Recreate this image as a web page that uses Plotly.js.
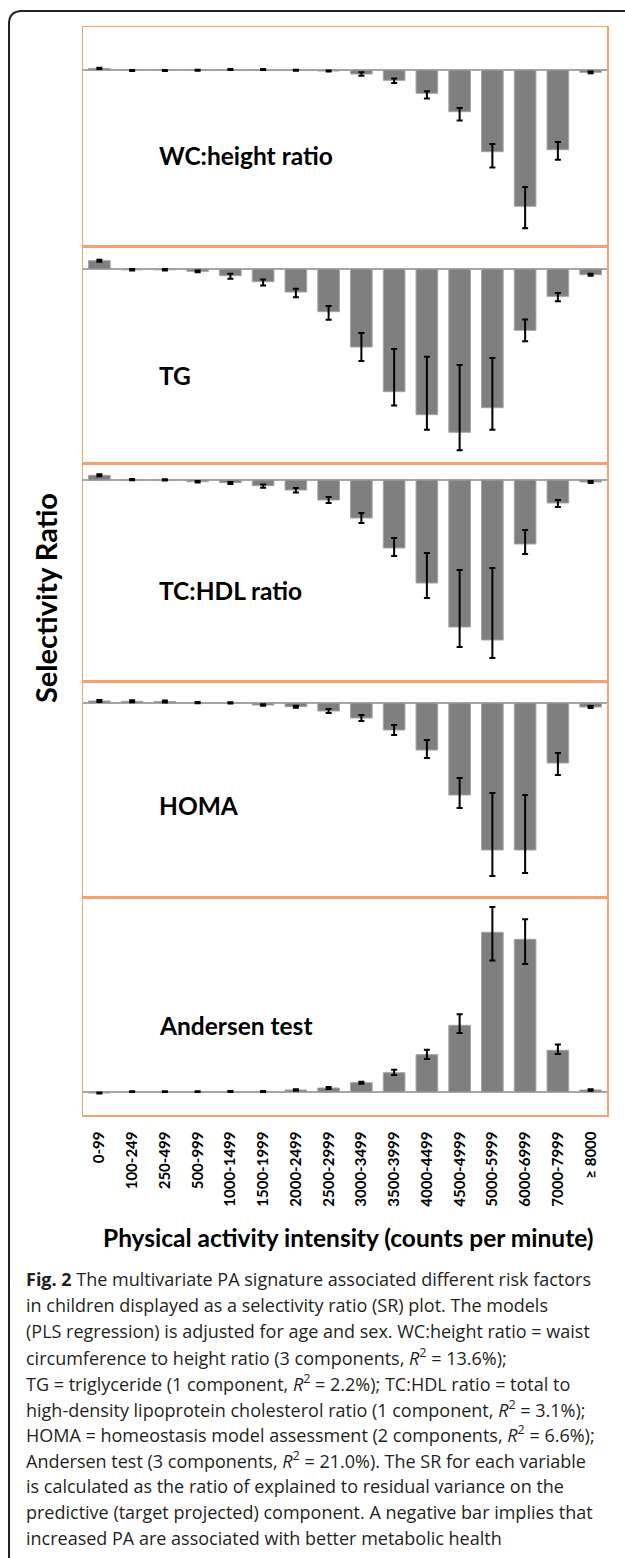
<!DOCTYPE html>
<html>
<head>
<meta charset="utf-8">
<script src="https://cdn.plot.ly/plotly-3.0.1.min.js"></script>
<style>
  html, body { margin: 0; padding: 0; background: #ffffff; }
  #chart { width: 625px; height: 1558px; }
</style>
</head>
<body>
<div id="chart"></div>
<script>
// ---------- data (selectivity ratio, arbitrary SR units) ----------
const categories = ['0-99','100-249','250-499','500-999','1000-1499','1500-1999','2000-2499','2500-2999',
                    '3000-3499','3500-3999','4000-4499','4500-4999','5000-5999','6000-6999','7000-7999','\u2265 8000'];

const panelNames = ['WC:height ratio', 'TG', 'TC:HDL ratio', 'HOMA', 'Andersen test'];

const wcValues   = [0.016,-0.005,-0.004,-0.003,0.004,0.004,-0.003,-0.010,-0.040,-0.103,-0.233,-0.417,-0.817,-1.363,-0.797,-0.023];
const wcErrUp    = [0.006,0.005,0.005,0.005,0.005,0.005,0.005,0.005,0.017,0.017,0.020,0.037,0.077,0.193,0.077,0.008];
const wcErrDown  = [0.006,0.005,0.005,0.005,0.005,0.005,0.005,0.005,0.017,0.027,0.053,0.087,0.157,0.220,0.100,0.010];

const tgValues   = [0.083,-0.008,-0.008,-0.023,-0.067,-0.127,-0.230,-0.427,-0.780,-1.227,-1.457,-1.633,-1.387,-0.613,-0.273,-0.057];
const tgErrUp    = [0.010,0.007,0.007,0.007,0.020,0.023,0.033,0.057,0.140,0.427,0.580,0.673,0.497,0.107,0.033,0.010];
const tgErrDown  = [0.010,0.007,0.007,0.010,0.030,0.037,0.053,0.080,0.140,0.137,0.150,0.180,0.220,0.110,0.050,0.010];

const tcValues   = [0.047,0.003,0.002,-0.017,-0.027,-0.057,-0.100,-0.200,-0.380,-0.680,-1.030,-1.470,-1.600,-0.640,-0.230,-0.020];
const tcErrUp    = [0.010,0.006,0.006,0.006,0.008,0.012,0.020,0.030,0.050,0.100,0.300,0.570,0.720,0.140,0.030,0.010];
const tcErrDown  = [0.010,0.006,0.006,0.008,0.012,0.020,0.025,0.030,0.050,0.080,0.150,0.200,0.180,0.100,0.040,0.010];

const homaValues = [0.020,0.017,0.015,0.003,0.002,-0.020,-0.037,-0.080,-0.150,-0.270,-0.470,-0.920,-1.470,-1.470,-0.600,-0.040];
const homaErrUp  = [0.010,0.010,0.010,0.006,0.006,0.008,0.010,0.020,0.030,0.050,0.100,0.170,0.570,0.550,0.100,0.010];
const homaErrDown= [0.010,0.010,0.010,0.006,0.006,0.008,0.010,0.020,0.030,0.050,0.080,0.130,0.260,0.230,0.120,0.010];

const andValues  = [-0.010,0.003,0.003,0.003,0.005,0.005,0.020,0.040,0.093,0.193,0.373,0.667,1.597,1.527,0.417,0.020];
const andErrUp   = [0.006,0.004,0.004,0.004,0.004,0.004,0.007,0.010,0.010,0.030,0.050,0.110,0.253,0.200,0.057,0.007];
const andErrDown = [0.006,0.004,0.004,0.004,0.004,0.004,0.007,0.010,0.010,0.023,0.043,0.077,0.283,0.247,0.037,0.007];

const panelRanges = [[-1.76,0.43],[-1.94,0.23],[-2.01,0.17],[-1.94,0.22],[-0.23,1.95]];

const xTitle = 'Physical activity intensity (counts per minute)';
const yTitle = 'Selectivity Ratio';

const captionLines = [
  '<b>Fig. 2</b> The multivariate PA signature associated different risk factors',
  'in children displayed as a selectivity ratio (SR) plot. The models',
  '(PLS regression) is adjusted for age and sex. WC:height ratio = waist',
  'circumference to height ratio (3 components, <i>R</i><sup>2</sup> = 13.6%);',
  'TG = triglyceride (1 component, <i>R</i><sup>2</sup> = 2.2%); TC:HDL ratio = total to',
  'high-density lipoprotein cholesterol ratio (1 component, <i>R</i><sup>2</sup> = 3.1%);',
  'HOMA = homeostasis model assessment (2 components, <i>R</i><sup>2</sup> = 6.6%);',
  'Andersen test (3 components, <i>R</i><sup>2</sup> = 21.0%). The SR for each variable',
  'is calculated as the ratio of explained to residual variance on the',
  'predictive (target projected) component. A negative bar implies that',
  'increased PA are associated with better metabolic health'
];

// ---------- layout geometry (pixels) ----------
const W = 625, H = 1558;
const plotL = 83, plotR = 607, plotT = 27, plotB = 1115;
const panelEdges = [27, 246, 463, 681, 897, 1115];
const labelY = [155, 375, 591, 805, 1025];
const pw = plotR - plotL, ph = plotB - plotT;
const px2x = x => (x - plotL) / pw;
const px2y = y => (plotB - y) / ph;

const series = [
  [wcValues, wcErrUp, wcErrDown],
  [tgValues, tgErrUp, tgErrDown],
  [tcValues, tcErrUp, tcErrDown],
  [homaValues, homaErrUp, homaErrDown],
  [andValues, andErrUp, andErrDown]
];

const ORANGE = '#f4a36e';
const traces = [];
const layout = {
  width: W, height: H,
  margin: {l: plotL, r: W - plotR, t: plotT, b: H - plotB, pad: 0},
  paper_bgcolor: '#ffffff', plot_bgcolor: '#ffffff',
  showlegend: false, bargap: 0.34,
  font: {family: 'Lato, "Open Sans", sans-serif', color: '#000'},
  annotations: [], shapes: []
};

series.forEach((s, i) => {
  const n = i + 1;
  const xa = 'x' + (n === 1 ? '' : n), ya = 'y' + (n === 1 ? '' : n);
  traces.push({
    type: 'bar', x: categories, y: s[0], xaxis: xa, yaxis: ya,
    marker: {color: '#7f7f7f', line: {color: '#a3a3a3', width: 1}},
    error_y: {type: 'data', symmetric: false, array: s[1], arrayminus: s[2],
              color: '#000000', thickness: 2, width: 3},
    hoverinfo: 'x+y'
  });
  const top = panelEdges[i], bot = panelEdges[i + 1];
  const xaxis = {
    anchor: ya,
    type: 'category', showgrid: false, zeroline: false,
    showline: true, mirror: true, linecolor: ORANGE, linewidth: 1.5,
    ticks: '', showticklabels: n === 5, tickangle: -90,
    ticklabelstandoff: 9,
    tickfont: {family: 'Lato, sans-serif', size: 15, color: '#000', weight: 'bold'}
  };
  if (n > 1) xaxis.matches = 'x';
  layout['xaxis' + (n === 1 ? '' : n)] = xaxis;
  layout['yaxis' + (n === 1 ? '' : n)] = {
    anchor: xa, domain: [px2y(bot), px2y(top)], range: panelRanges[i],
    showgrid: false, showticklabels: false, ticks: '',
    zeroline: true, zerolinecolor: '#a6a6a6', zerolinewidth: 1.6,
    showline: true, mirror: true, linecolor: ORANGE, linewidth: 1.5
  };
  layout.annotations.push({
    xref: 'paper', yref: 'paper', x: px2x(157), y: px2y(labelY[i]),
    xanchor: 'left', yanchor: 'middle', showarrow: false,
    text: '<b>' + panelNames[i] + '</b>',
    font: {family: 'Lato, sans-serif', size: 24.5, color: '#000'}
  });
});

// axis titles
layout.annotations.push({
  xref: 'paper', yref: 'paper', x: px2x(348), y: px2y(1237),
  xanchor: 'center', yanchor: 'middle', showarrow: false,
  text: '<b>' + xTitle + '</b>', font: {family: 'Lato, sans-serif', size: 24.5, color: '#000'}
});
layout.annotations.push({
  xref: 'paper', yref: 'paper', x: px2x(45), y: px2y(598),
  xanchor: 'center', yanchor: 'middle', showarrow: false, textangle: -90,
  text: '<b>' + yTitle + '</b>', font: {family: 'Lato, sans-serif', size: 29, color: '#000'}
});

// caption
captionLines.forEach((t, k) => {
  layout.annotations.push({
    xref: 'paper', yref: 'paper', x: px2x(24), y: px2y(1279 + 25.9 * k),
    xanchor: 'left', yanchor: 'middle', showarrow: false, align: 'left',
    text: t, font: {family: '"Open Sans", sans-serif', size: 18, color: '#231f20'}
  });
});

// outer rounded frame
const fx = v => px2x(v).toFixed(5), fy = v => px2y(v).toFixed(5);
layout.shapes.push({
  type: 'path', xref: 'paper', yref: 'paper', layer: 'above',
  path: 'M ' + fx(660) + ',' + fy(11) + ' L ' + fx(22) + ',' + fy(11) +
        ' Q ' + fx(9) + ',' + fy(11) + ' ' + fx(9) + ',' + fy(24) +
        ' L ' + fx(9) + ',' + fy(1600),
  line: {color: '#222222', width: 2}
});

Plotly.newPlot('chart', traces, layout, {staticPlot: true, displayModeBar: false});
</script>
</body>
</html>
